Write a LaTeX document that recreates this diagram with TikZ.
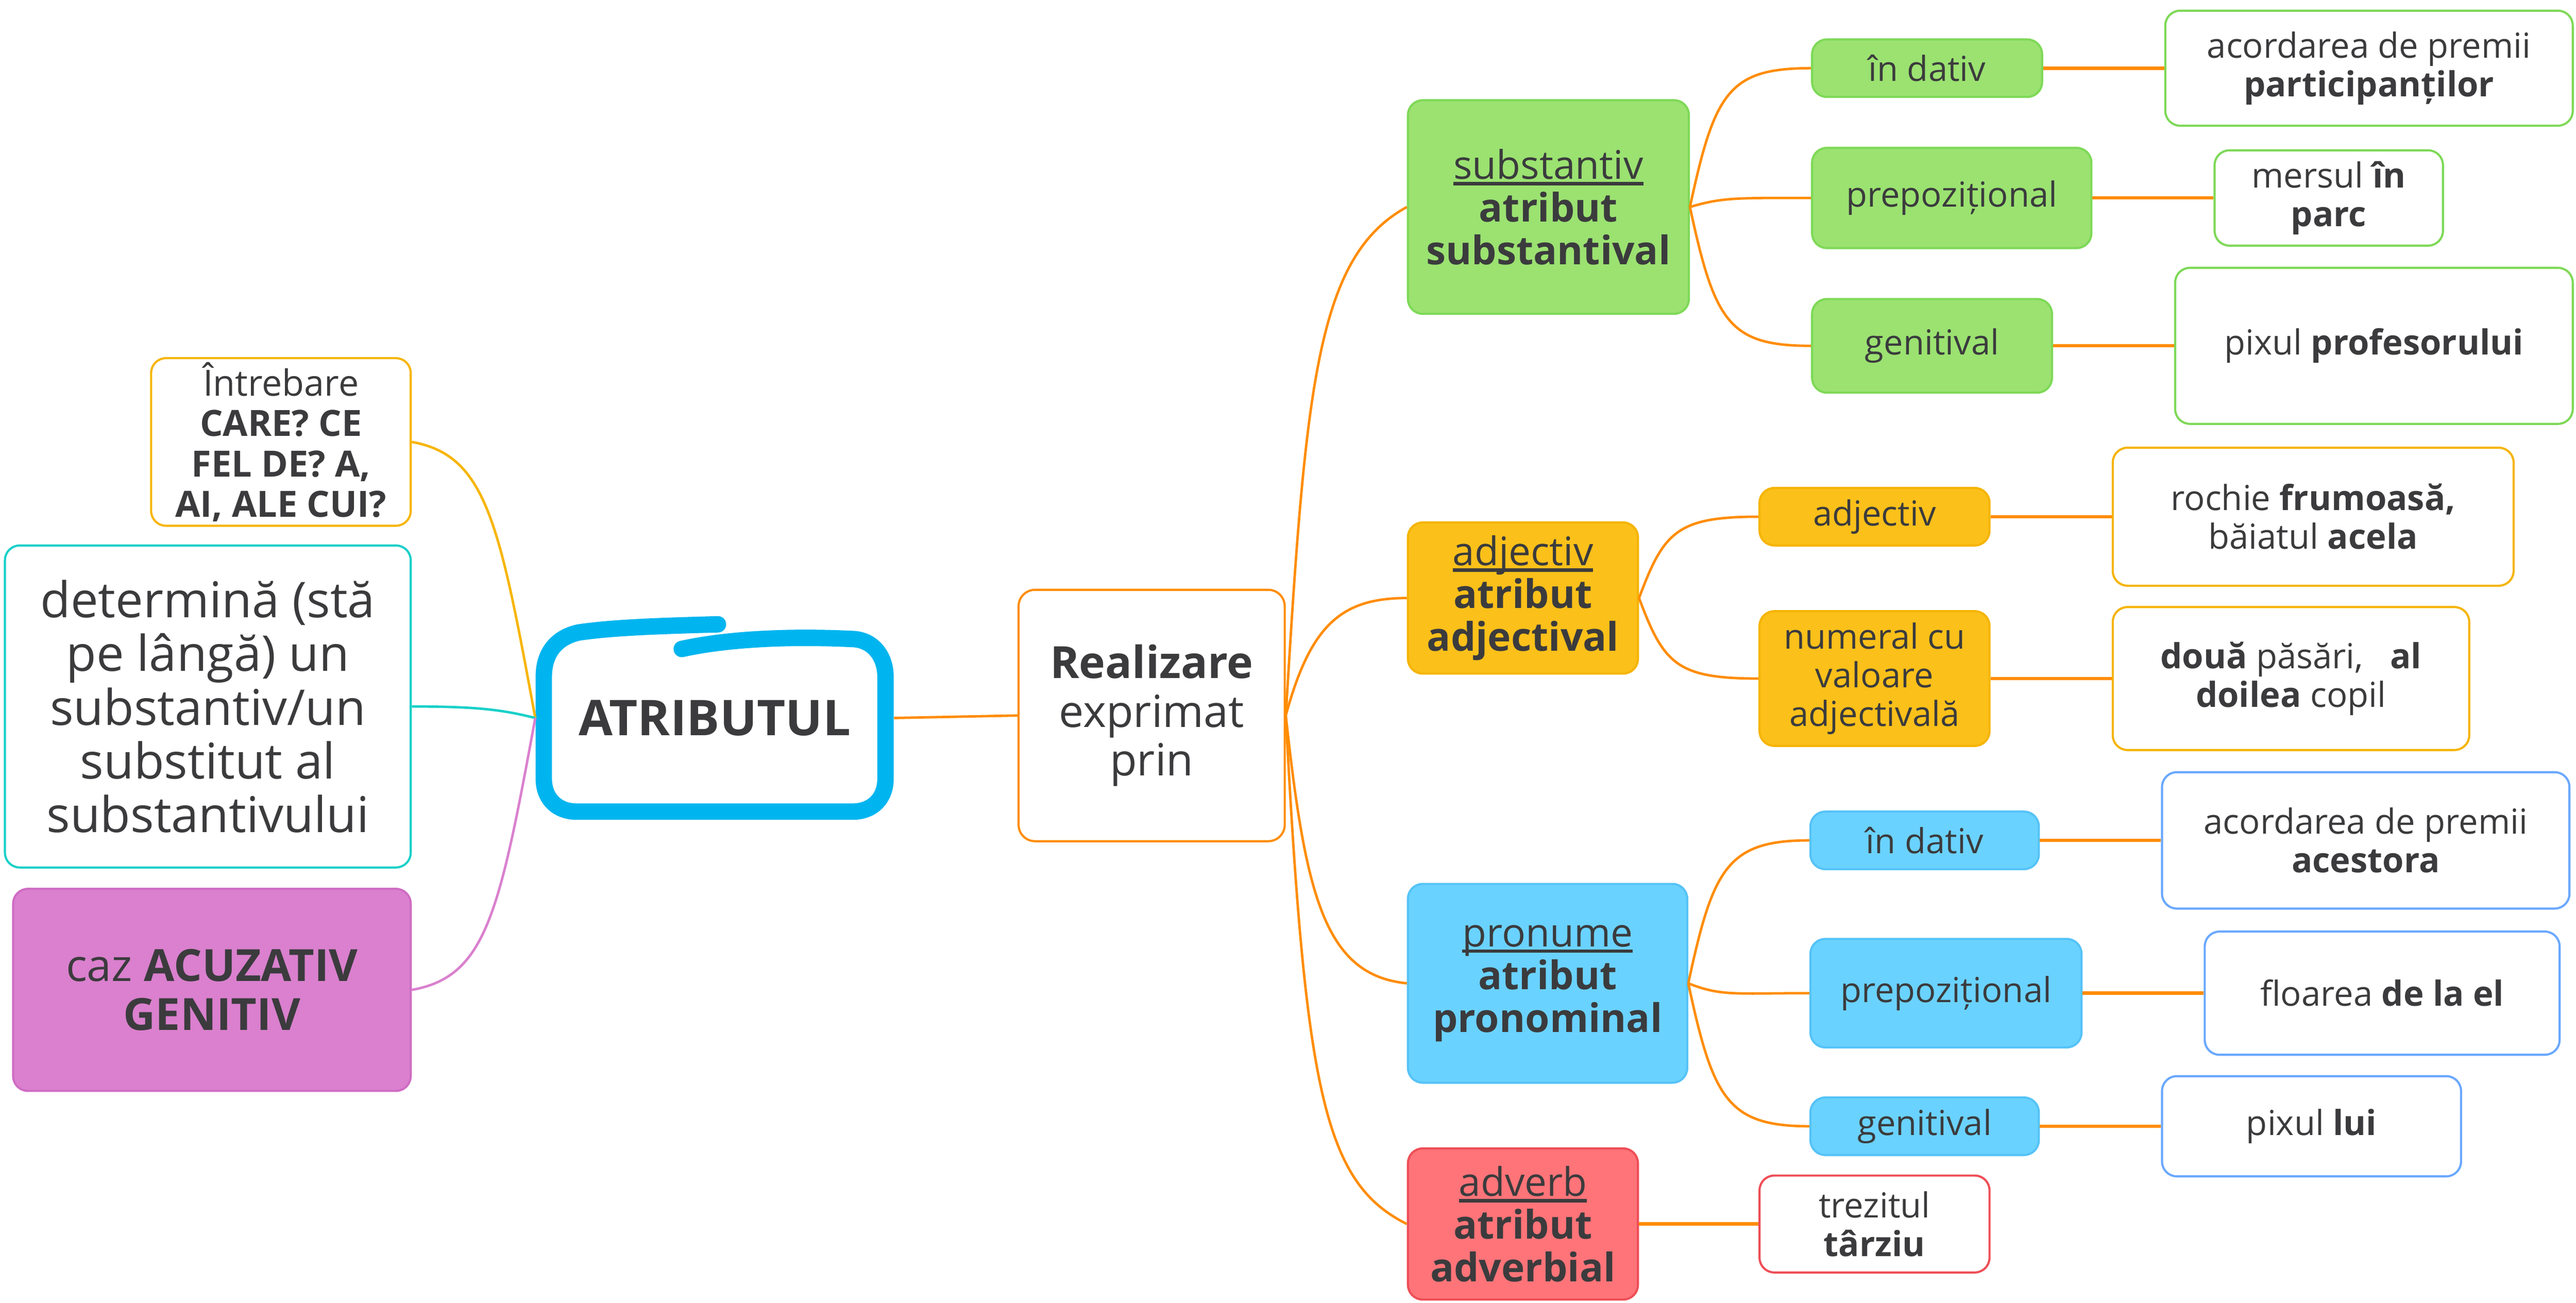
\documentclass[tikz,border=0pt]{standalone}
\usepackage{fontspec}
\setmainfont{Open Sans}
\usetikzlibrary{calc}
\definecolor{txt}{HTML}{3B3B3D}
\definecolor{orng}{HTML}{FF8C00}
\definecolor{gold}{HTML}{F7B500}
\definecolor{teal}{HTML}{19D0C9}
\definecolor{pinkfill}{HTML}{DA80CE}
\definecolor{pinkdraw}{HTML}{CF6CC4}
\definecolor{atrblue}{HTML}{00B5EF}
\definecolor{greenfill}{HTML}{9BE271}
\definecolor{greendraw}{HTML}{7ED957}
\definecolor{amberfill}{HTML}{FBC01A}
\definecolor{amberdraw}{HTML}{F5B400}
\definecolor{bluefill}{HTML}{6AD2FF}
\definecolor{bluedraw}{HTML}{55C3F7}
\definecolor{leafblue}{HTML}{6AA8FF}
\definecolor{redfill}{HTML}{FF7478}
\definecolor{reddraw}{HTML}{EE4E57}
\newcommand\myul[1]{\setbox0=\hbox{#1}\rlap{\rule[-3.8pt]{\wd0}{2pt}}\box0}
\tikzset{
  box/.style={rectangle, rounded corners=9pt, inner sep=0pt, align=center, text=txt, line width=1.3pt},
  sz/.style n args={2}{minimum width=#1pt, minimum height=#2pt},
  fs/.style={font=\fontsize{21}{23.5}\selectfont},
  fm/.style={font=\fontsize{24}{26}\selectfont},
  curve/.style={draw=orng, line width=1.5pt},
  link/.style={draw=orng, line width=2pt},
}
\begin{document}
\begin{tikzpicture}[x=1pt, y=-1pt]
\useasboundingbox (0,0) rectangle (1568,793);
\fill[white] (0,0) rectangle (1568,793);

% ---- left nodes
\node[box, draw=gold, sz={158}{102}, font=\fontsize{22}{24.5}\selectfont] (q) at (171,269) {Întrebare\\\textbf{CARE? CE}\\\textbf{FEL DE? A,}\\\textbf{AI, ALE CUI?}};
\node[box, draw=teal, sz={247}{196}, font=\fontsize{30}{32.7}\selectfont] (d) at (126.5,430) {determină (stă\\pe lângă) un\\substantiv/un\\substitut al\\substantivului};
\node[box, draw=pinkdraw, fill=pinkfill, sz={242}{123}, font=\fontsize{27}{29.7}\selectfont] (c) at (129,602.5) {caz \textbf{ACUZATIV}\\\textbf{GENITIV}};

% ---- central node
\node[rectangle, inner sep=0pt, sz={218}{122}, text=txt, font=\fontsize{30}{34}\selectfont\bfseries] (atr) at (435,437) {ATRIBUTUL};
\draw[atrblue, line width=10pt, line cap=round, line join=round]
  (437,380) .. controls (400,381) and (372,382) .. (352,385)
  .. controls (339,388) and (331,397) .. (331,412) -- (331,474)
  .. controls (331,486) and (339,494) .. (351,494) -- (519,494)
  .. controls (531,494) and (539,486) .. (539,474) -- (539,412)
  .. controls (539,400) and (532,390) .. (520,389)
  .. controls (480,387) and (442,389) .. (415,395);

\node[box, draw=orng, rounded corners=10pt, sz={162}{153}, font=\fontsize{27}{29.7}\selectfont] (r) at (701,435.5) {\textbf{Realizare}\\exprimat\\prin};

% ---- level 2
\node[box, draw=greendraw, fill=greenfill, sz={171}{130}, fm] (s) at (942.5,126) {\myul{substantiv}\\\textbf{atribut}\\\textbf{substantival}};
\node[box, draw=amberdraw, fill=amberfill, sz={140}{92}, fm] (a) at (927,364) {\myul{adjectiv}\\\textbf{atribut}\\\textbf{adjectival}};
\node[box, draw=bluedraw, fill=bluefill, sz={170}{121}, fm] (p) at (942,598.5) {\myul{pronume}\\\textbf{atribut}\\\textbf{pronominal}};
\node[box, draw=reddraw, fill=redfill, sz={140}{92}, fm] (v) at (927,745) {\myul{adverb}\\\textbf{atribut}\\\textbf{adverbial}};

% ---- level 3 substantiv
\node[box, draw=greendraw, fill=greenfill, sz={140}{35}, fs] (s1) at (1173,41.5) {în dativ};
\node[box, draw=greendraw, fill=greenfill, sz={170}{61}, fs] (s2) at (1188,120.5) {prepozițional};
\node[box, draw=greendraw, fill=greenfill, sz={146}{57}, fs] (s3) at (1176,210.5) {genitival};
\node[box, draw=greendraw, sz={248}{70}, fs] (l1) at (1442,41.5) {acordarea de premii\\\textbf{participanților}};
\node[box, draw=greendraw, sz={139}{58}, fs] (l2) at (1417.5,120.5) {mersul \textbf{în}\\\textbf{parc}};
\node[box, draw=greendraw, sz={242}{95}, fs] (l3) at (1445,210.5) {pixul \textbf{profesorului}};

% ---- level 3 adjectiv
\node[box, draw=amberdraw, fill=amberfill, sz={140}{35}, fs] (a1) at (1141,314.5) {adjectiv};
\node[box, draw=amberdraw, fill=amberfill, sz={140}{82}, fs] (a2) at (1141,413) {numeral cu\\valoare\\adjectivală};
\node[box, draw=amberdraw, sz={244}{84}, fs] (la1) at (1408,314.5) {rochie \textbf{frumoasă,}\\băiatul \textbf{acela}};
\node[box, draw=amberdraw, sz={217}{87}, fs] (la2) at (1394.5,413) {\textbf{două} păsări,\ \ \ \textbf{al}\\\textbf{doilea} copil};

% ---- level 3 pronume
\node[box, draw=bluedraw, fill=bluefill, sz={139}{35}, fs] (p1) at (1171.5,511.5) {în dativ};
\node[box, draw=bluedraw, fill=bluefill, sz={165}{66}, fs] (p2) at (1184.5,604.5) {prepozițional};
\node[box, draw=bluedraw, fill=bluefill, sz={139}{35}, fs] (p3) at (1171.5,685.5) {genitival};
\node[box, draw=leafblue, sz={248}{83}, fs] (lp1) at (1440,511.5) {acordarea de premii\\\textbf{acestora}};
\node[box, draw=leafblue, sz={216}{75}, fs] (lp2) at (1450,604.5) {floarea \textbf{de la el}};
\node[box, draw=leafblue, sz={182}{61}, fs] (lp3) at (1407,685.5) {pixul \textbf{lui}};

% ---- level 3 adverb
\node[box, draw=reddraw, sz={140}{59}, fs] (v1) at (1141,745) {trezitul\\\textbf{târziu}};

% ---- left connectors
\draw[gold, line width=1.5pt] (atr.west) .. controls ($(atr.west)+(-22,-120)$) and ($(q.east)+(45,8)$) .. (q.east);
\draw[teal, line width=1.5pt] (atr.west) .. controls ($(atr.west)+(-20,-5)$) and ($(d.east)+(40,0)$) .. (d.east);
\draw[pinkfill, line width=1.5pt] (atr.west) .. controls ($(atr.west)+(-22,120)$) and ($(c.east)+(45,-8)$) .. (c.east);

% ---- right connectors
\draw[curve] (atr.east) -- (r.west);
\draw[curve] (r.east) .. controls ($(r.east)+(12,-200)$) and ($(s.west)+(-55,30)$) .. (s.west);
\draw[curve] (r.east) .. controls ($(r.east)+(15,-55)$) and ($(a.west)+(-40,0)$) .. (a.west);
\draw[curve] (r.east) .. controls ($(r.east)+(12,110)$) and ($(p.west)+(-50,-5)$) .. (p.west);
\draw[curve] (r.east) .. controls ($(r.east)+(12,230)$) and ($(v.west)+(-50,-25)$) .. (v.west);

\draw[curve] (s.east) .. controls ($(s.east)+(15,-70)$) and ($(s1.west)+(-50,0)$) .. (s1.west);
\draw[curve] (s.east) .. controls ($(s.east)+(20,-6)$) and ($(s2.west)+(-45,0)$) .. (s2.west);
\draw[curve] (s.east) .. controls ($(s.east)+(15,70)$) and ($(s3.west)+(-50,0)$) .. (s3.west);
\draw[curve] (a.east) .. controls ($(a.east)+(15,-40)$) and ($(a1.west)+(-50,0)$) .. (a1.west);
\draw[curve] (a.east) .. controls ($(a.east)+(15,40)$) and ($(a2.west)+(-50,0)$) .. (a2.west);
\draw[curve] (p.east) .. controls ($(p.east)+(15,-70)$) and ($(p1.west)+(-50,0)$) .. (p1.west);
\draw[curve] (p.east) .. controls ($(p.east)+(20,8)$) and ($(p2.west)+(-45,0)$) .. (p2.west);
\draw[curve] (p.east) .. controls ($(p.east)+(15,70)$) and ($(p3.west)+(-50,0)$) .. (p3.west);

\draw[link] (s1.east) -- (l1.west);
\draw[link] (s2.east) -- (l2.west);
\draw[link] (s3.east) -- (l3.west);
\draw[link] (a1.east) -- (la1.west);
\draw[link] (a2.east) -- (la2.west);
\draw[link] (p1.east) -- (lp1.west);
\draw[link] (p2.east) -- (lp2.west);
\draw[link] (p3.east) -- (lp3.west);
\draw[link] (v.east) -- (v1.west);
\end{tikzpicture}
\end{document}
